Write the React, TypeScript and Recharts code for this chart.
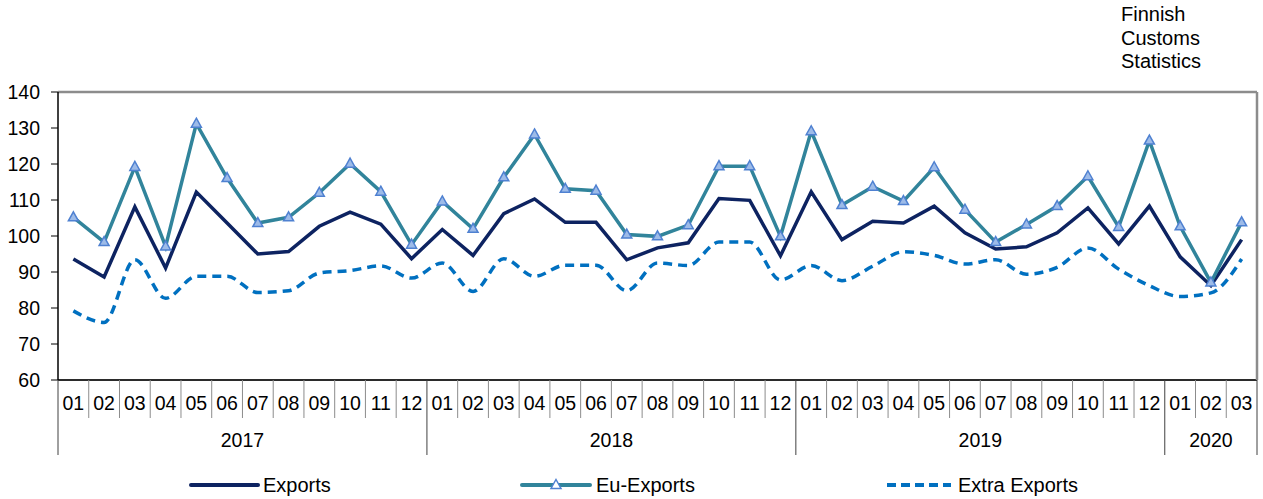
import React from 'react';
import {
  LineChart,
  Line,
  XAxis,
  YAxis,
  CartesianGrid,
  ReferenceLine
} from 'recharts';

// Finnish Customs Statistics: export volume index by month
const YEARS = ['2017', '2018', '2019', '2020'];
const MONTHS_PER_YEAR = [12, 12, 12, 3];
const MONTH_LABELS = ['01', '02', '03', '04', '05', '06', '07', '08', '09', '10', '11', '12'];

const EXPORTS = [
  93.6, 88.6, 108.1, 91.1, 112.2, 103.6, 95.0, 95.7, 102.7, 106.6, 103.3, 93.7,
  101.8, 94.6, 106.2, 110.3, 103.8, 103.8, 93.4, 96.7, 98.1, 110.4, 109.9, 94.5,
  112.3, 99.0, 104.1, 103.6, 108.3, 100.9, 96.4, 97.0, 100.9, 107.8, 97.8, 108.3,
  94.2, 86.2, 99.0
];

const EU_EXPORTS = [
  105.2, 98.3, 119.2, 97.1, 131.2, 116.1, 103.6, 105.2, 112.0, 120.1, 112.3, 97.6,
  109.6, 102.0, 116.3, 128.2, 113.1, 112.6, 100.4, 99.9, 103.0, 119.4, 119.4, 99.9,
  129.1, 108.6, 113.7, 109.7, 119.1, 107.3, 98.3, 103.2, 108.3, 116.6, 102.5, 126.5,
  102.7, 87.1, 103.8
];

const EXTRA_EXPORTS = [
  79.2, 76.0, 93.4, 82.7, 88.8, 88.8, 84.3, 84.8, 89.7, 90.4, 91.7, 88.3,
  92.5, 84.6, 93.7, 88.8, 91.9, 91.9, 84.8, 92.5, 91.8, 98.3, 98.3, 87.8,
  91.8, 87.6, 91.6, 95.6, 94.6, 92.2, 93.4, 89.4, 91.3, 96.7, 90.8, 86.2,
  83.2, 84.2, 93.6
];

const Y_TICKS = [60, 70, 80, 90, 100, 110, 120, 130, 140];

// build categories (year + month) from the lists above
const categories: { key: string; month: string; year: string; first: boolean; count: number }[] = [];
YEARS.forEach((year, yi) => {
  for (let m = 0; m < MONTHS_PER_YEAR[yi]; m++) {
    categories.push({ key: `${year}-${MONTH_LABELS[m]}`, month: MONTH_LABELS[m], year, first: m === 0, count: MONTHS_PER_YEAR[yi] });
  }
});

const data = categories.map((c, i) => ({
  key: c.key,
  exports: EXPORTS[i],
  eu: EU_EXPORTS[i],
  extra: EXTRA_EXPORTS[i]
}));

const W = 1263;
const H = 499;
const LEFT = 58;
const RIGHT = 6;
const PLOT_W = W - LEFT - RIGHT;
const BAND = PLOT_W / categories.length;
const FONT = 'Arial, "Liberation Sans", sans-serif';

const MonthTick = (props: any) => {
  const { x, y, payload } = props;
  const i = payload.index;
  const c = categories[i];
  const last = i === categories.length - 1;
  return (
    <g>
      <line
        x1={x - BAND / 2}
        x2={x - BAND / 2}
        y1={y}
        y2={y + (c.first ? 75 : 38)}
        stroke={c.first ? '#404040' : '#8c8c8c'}
        strokeWidth={1}
      />
      {last && <line x1={x + BAND / 2} x2={x + BAND / 2} y1={y} y2={y + 75} stroke="#404040" />}
      <text x={x} y={y + 23} textAnchor="middle" dominantBaseline="central" fontSize={19.5} fontFamily={FONT} fill="#000">
        {c.month}
      </text>
      {c.first && (
        <text
          x={x + ((c.count - 1) / 2) * BAND}
          y={y + 60}
          textAnchor="middle"
          dominantBaseline="central"
          fontSize={19.5}
          fontFamily={FONT}
          fill="#000"
        >
          {c.year}
        </text>
      )}
    </g>
  );
};

const Triangle = (props: any) => {
  const { cx, cy, index } = props;
  if (cx == null || cy == null) return <g key={`t-${index}`} />;
  return (
    <path
      key={`t-${index}`}
      d={`M${cx},${cy - 5.5} L${cx + 5},${cy + 3.5} L${cx - 5},${cy + 3.5} Z`}
      fill="#9dbbe8"
      stroke="#4f81d1"
      strokeWidth={1.5}
    />
  );
};

const LegendRow = () => (
  <svg width={W} height={30} style={{ position: 'absolute', left: 0, top: 470 }}>
    <line x1={191} x2={258} y1={15} y2={15} stroke="#0d2361" strokeWidth={4} strokeLinecap="round" />
    <text x={263} y={15} dominantBaseline="central" fontSize={20} fontFamily={FONT}>Exports</text>
    <line x1={522} x2={590} y1={15} y2={15} stroke="#31849b" strokeWidth={4} strokeLinecap="round" />
    <path d="M556,9.5 L561,18.5 L551,18.5 Z" fill="#ffffff" stroke="#4f81d1" strokeWidth={1.5} />
    <text x={596} y={15} dominantBaseline="central" fontSize={20} fontFamily={FONT}>Eu-Exports</text>
    <line x1={887} x2={951} y1={15} y2={15} stroke="#0070c0" strokeWidth={4} strokeDasharray="9 5" />
    <text x={958} y={15} dominantBaseline="central" fontSize={20} fontFamily={FONT}>Extra Exports</text>
  </svg>
);

export default function App() {
  return (
    <div style={{ position: 'absolute', left: 0, top: 0, width: W, height: H, background: '#fff', fontFamily: FONT }}>
      <div style={{ position: 'absolute', left: 1121, top: 3, fontSize: 20, lineHeight: '23.5px', color: '#000' }}>
        Finnish<br />Customs<br />Statistics
      </div>
      <LineChart width={W} height={H} data={data} margin={{ top: 92, right: 0, bottom: 0, left: 0 }}>
        <CartesianGrid vertical={false} stroke="#595959" strokeWidth={1} />
        <XAxis
          dataKey="key"
          interval={0}
          height={119}
          tickLine={false}
          tickSize={0}
          tickMargin={0}
          axisLine={{ stroke: '#000', strokeWidth: 1.5 }}
          padding={{ left: BAND / 2, right: BAND / 2 }}
          tick={<MonthTick />}
        />
        <YAxis
          yAxisId="left"
          width={LEFT}
          domain={[60, 140]}
          ticks={Y_TICKS}
          interval={0}
          tickSize={7}
          tickMargin={11}
          tickLine={{ stroke: '#000' }}
          axisLine={{ stroke: '#000', strokeWidth: 1.5 }}
          tick={{ fontSize: 19.5, fill: '#000', fontFamily: FONT }}
        />
        <YAxis
          yAxisId="right"
          orientation="right"
          width={RIGHT}
          domain={[60, 140]}
          tick={false}
          tickLine={false}
          axisLine={{ stroke: '#8c8c8c', strokeWidth: 2.5 }}
        />
        <ReferenceLine yAxisId="left" y={140} stroke="#8c8c8c" strokeWidth={2.5} />
        <Line
          yAxisId="left"
          type="monotone"
          dataKey="extra"
          stroke="#0070c0"
          strokeWidth={3.5}
          strokeDasharray="9 6"
          dot={false}
          isAnimationActive={false}
        />
        <Line
          yAxisId="left"
          type="linear"
          dataKey="exports"
          stroke="#0d2361"
          strokeWidth={3.5}
          dot={false}
          isAnimationActive={false}
        />
        <Line
          yAxisId="left"
          type="linear"
          dataKey="eu"
          stroke="#31849b"
          strokeWidth={3.5}
          dot={<Triangle />}
          isAnimationActive={false}
        />
      </LineChart>
      <LegendRow />
    </div>
  );
}
